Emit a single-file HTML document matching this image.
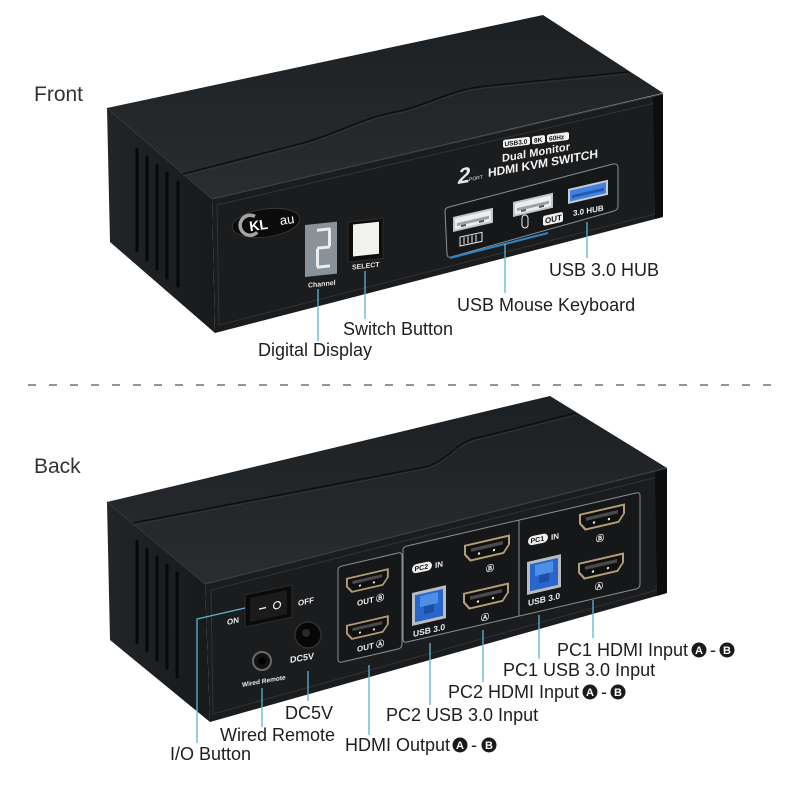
<!DOCTYPE html>
<html><head><meta charset="utf-8"><style>
html,body{margin:0;padding:0;background:#fff;}
svg{display:block;}
text{font-family:"Liberation Sans","DejaVu Sans",Arial,sans-serif;}
</style></head><body>
<svg width="800" height="800" viewBox="0 0 800 800" xmlns="http://www.w3.org/2000/svg">
<defs>
<linearGradient id="topg" x1="0" y1="0" x2="0" y2="1">
 <stop offset="0" stop-color="#1d2023"/><stop offset="1" stop-color="#2a2d30"/>
</linearGradient>
<linearGradient id="sideg" x1="0" y1="0" x2="1" y2="0">
 <stop offset="0" stop-color="#222528"/><stop offset="1" stop-color="#17191b"/>
</linearGradient>
<g id="hdmi">
 <path d="M0,0 H46 V10 L40,18 H6 L0,10 Z" fill="#b39e78"/>
 <path d="M2,2 H44 V9.5 L39,16 H7 L2,9.5 Z" fill="#101010"/>
 <rect x="7" y="5" width="32" height="3.5" fill="#4a4a4a"/>
 <circle cx="15" cy="12" r="1.2" fill="#eee"/>
 <circle cx="30" cy="12" r="1.2" fill="#eee"/>
</g>
<g id="usbb">
 <rect x="0" y="0" width="34" height="33" fill="#b9bdc2"/>
 <rect x="3" y="3" width="28" height="27" fill="#2a66c9"/>
 <rect x="8" y="5" width="18" height="11" fill="#4d8fe6"/>
 <rect x="12" y="16" width="10" height="8" fill="#1d4fa6"/>
</g>
<g id="usba">
 <rect x="0" y="0" width="40" height="15" fill="#c3c6c8"/>
 <rect x="2" y="2" width="36" height="11" fill="#eceded"/>
 <rect x="4" y="7" width="32" height="3" fill="#9ea1a3"/>
 <rect x="8" y="10" width="5" height="2" fill="#555"/>
 <rect x="26" y="10" width="5" height="2" fill="#555"/>
</g>
</defs>
<rect width="800" height="800" fill="#fff"/>

<text x="34" y="101" font-size="21" fill="#333">Front</text>
<text x="34" y="473" font-size="21" fill="#333">Back</text>

<line x1="28" y1="385" x2="772" y2="385" stroke="#555" stroke-width="1.2" stroke-dasharray="8 13"/>

<!-- ================= FRONT DEVICE ================= -->
<polygon points="107,108 212,199 215,333 110,242" fill="url(#sideg)"/>
<polygon points="107,108 543,15 663,93 212,199" fill="url(#topg)"/>
<polygon points="212,199 663,94 663,217 215,333" fill="#1a1c1e"/>
<polygon points="217,205 655,103 655,214 219,325" fill="none" stroke="#2f3337" stroke-width="1"/>
<polygon points="653,97 663,94 663,217 655,219" fill="#0c0d0e"/>
<line x1="212" y1="199" x2="663" y2="94" stroke="#3d4145" stroke-width="1.2"/>
<line x1="107" y1="108" x2="212" y2="199" stroke="#34383b" stroke-width="1"/>
<path d="M183,174 L303,143 C340,133 360,118 400,111 C430,104 450,90 485,86 L628,72" fill="none" stroke="#0e0f10" stroke-width="1.6"/>
<path d="M183,176 L303,145 C340,135 360,120 400,113 C430,106 450,92 485,88 L628,74" fill="none" stroke="#34373a" stroke-width="0.8"/>
<g stroke="#070808" stroke-width="3" stroke-linecap="round">
 <line x1="137" y1="149" x2="137" y2="251"/>
 <line x1="147" y1="157" x2="147" y2="260"/>
 <line x1="157" y1="165" x2="157" y2="269"/>
 <line x1="167" y1="173" x2="167" y2="278"/>
 <line x1="178" y1="182" x2="178" y2="286"/>
</g>
<g transform="rotate(-8 266 223)">
 <ellipse cx="266" cy="223" rx="34" ry="14" fill="#0b0b0b" stroke="#3c3c3c" stroke-width="0.8"/>
 <path d="M256,215 A10,10 0 1 0 256,231" fill="none" stroke="#a5a5a5" stroke-width="3.5"/>
 <text x="249" y="229" font-size="14" font-weight="bold" fill="#fff">KL</text>
 <text x="280" y="227" font-size="13" fill="#fff">au</text>
</g>
<g transform="translate(305,225) skewY(-6)">
 <rect x="0" y="0" width="32" height="52" fill="#8a9299"/>
 <g fill="#e9edf0">
  <rect x="12" y="5" width="13" height="3"/>
  <rect x="23" y="6" width="3" height="18"/>
  <rect x="12" y="23" width="13" height="3"/>
  <rect x="11" y="25" width="3" height="18"/>
  <rect x="12" y="42" width="13" height="3"/>
 </g>
 <text x="3" y="63" font-size="7" font-weight="bold" fill="#e6e6e6">Channel</text>
</g>
<g transform="translate(348,222) skewY(-6)">
 <rect x="0" y="0" width="35" height="40" fill="#0d0d0e" stroke="#2e2e2e"/>
 <rect x="5" y="3" width="26" height="32" fill="#f1f1ee"/>
 <text x="4" y="48" font-size="7" font-weight="bold" fill="#e6e6e6">SELECT</text>
</g>
<g transform="translate(503,148) skewY(-7)">
 <rect x="0" y="-8" width="27" height="8" rx="2" fill="#f2f2f2"/>
 <text x="1.5" y="-1.5" font-size="6.5" font-weight="bold" fill="#111">USB3.0</text>
 <rect x="29" y="-8" width="13" height="8" rx="2" fill="#f2f2f2"/>
 <text x="31" y="-1.5" font-size="6.5" font-weight="bold" fill="#111">8K</text>
 <rect x="44" y="-8" width="22" height="8" rx="2" fill="#f2f2f2"/>
 <text x="46" y="-1.5" font-size="6.5" font-weight="bold" fill="#111">60Hz</text>
</g>
<g transform="translate(502,162) skewY(-10)">
 <text x="0" y="0" font-size="11" font-weight="bold" fill="#f2f2f2" textLength="68">Dual Monitor</text>
</g>
<g transform="translate(488,177) skewY(-10)">
 <text x="0" y="0" font-size="12" font-weight="bold" fill="#f2f2f2" textLength="110">HDMI KVM SWITCH</text>
</g>
<g transform="translate(458,184) skewY(-10)">
 <text x="0" y="0" font-size="22" font-weight="bold" font-style="italic" fill="#e8e8e8">2</text>
 <text x="11" y="-1" font-size="5" fill="#e8e8e8">PORT</text>
</g>
<path d="M449,207 L613,164 Q618,163 618,168 L618,206 Q618,210 614,211 L451,257 Q447,258 447,254 L445,211 Q445,208 449,207 Z" fill="#151719" stroke="#8b9095" stroke-width="1"/>
<g transform="translate(453,217) skewY(-13)"><use href="#usba"/></g>
<g transform="translate(513,202) skewY(-13)"><use href="#usba"/></g>
<g transform="translate(568,189) skewY(-13)">
 <rect x="0" y="0" width="40" height="15" fill="#c8ccd1"/>
 <rect x="2" y="2" width="36" height="11" fill="#3f82e2"/>
 <rect x="4" y="7" width="32" height="3" fill="#2758b0"/>
</g>
<g transform="translate(460,246) skewY(-12)">
 <rect x="0" y="-9" width="22" height="9" fill="none" stroke="#eee" stroke-width="1"/>
 <g stroke="#eee" stroke-width="1"><line x1="4" y1="-8" x2="4" y2="-1"/><line x1="8" y1="-8" x2="8" y2="-1"/><line x1="12" y1="-8" x2="12" y2="-1"/><line x1="16" y1="-8" x2="16" y2="-1"/></g>
</g>
<rect x="522" y="215" width="6" height="13" rx="3" fill="none" stroke="#eee" stroke-width="1"/>
<g transform="translate(543,226) skewY(-12)">
 <rect x="0" y="-10" width="20" height="10" rx="2" fill="#f0f0f0"/>
 <text x="2" y="-2" font-size="8" font-weight="bold" fill="#111">OUT</text>
</g>
<g transform="translate(573,216) skewY(-10)">
 <text x="0" y="0" font-size="8" font-weight="bold" fill="#f0f0f0">3.0 HUB</text>
</g>
<line x1="450" y1="258" x2="548" y2="233" stroke="#2d86c8" stroke-width="2"/>

<g stroke="#5fb4d3" stroke-width="1.3">
 <line x1="318" y1="289" x2="318" y2="341"/>
 <line x1="365" y1="271" x2="365" y2="319"/>
 <line x1="505" y1="244" x2="505" y2="293"/>
 <line x1="587" y1="222" x2="587" y2="258"/>
</g>
<g font-size="18" fill="#1e1e1e">
 <text x="258" y="356">Digital Display</text>
 <text x="343" y="335">Switch Button</text>
 <text x="457" y="311">USB Mouse Keyboard</text>
 <text x="549" y="276">USB 3.0 HUB</text>
</g>

<!-- ================= BACK DEVICE ================= -->
<polygon points="107,502 205,584 210,722 110,640" fill="url(#sideg)"/>
<polygon points="107,502 550,396 667,468 205,584" fill="url(#topg)"/>
<polygon points="205,584 667,468 667,593 210,722" fill="#1a1c1e"/>
<polygon points="211,590 657,477 657,590 213,714" fill="none" stroke="#2f3337" stroke-width="1"/>
<polygon points="655,471 667,468 667,593 657,596" fill="#0c0d0e"/>
<line x1="205" y1="584" x2="667" y2="468" stroke="#3d4145" stroke-width="1.2"/>
<line x1="107" y1="502" x2="205" y2="584" stroke="#34383b" stroke-width="1"/>
<path d="M133,523 L420,468 C440,465 450,452 462,444 C470,439 475,438 485,436 L576,413" fill="none" stroke="#0e0f10" stroke-width="1.6"/>
<path d="M133,525 L420,470 C440,467 450,454 462,446 C470,441 475,440 485,438 L576,415" fill="none" stroke="#34373a" stroke-width="0.8"/>
<g stroke="#070808" stroke-width="3" stroke-linecap="round">
 <line x1="137" y1="541" x2="137" y2="643"/>
 <line x1="147" y1="549" x2="147" y2="651"/>
 <line x1="157" y1="557" x2="157" y2="660"/>
 <line x1="167" y1="565" x2="167" y2="668"/>
 <line x1="177" y1="573" x2="177" y2="677"/>
</g>
<g transform="translate(245,595) skewY(-12)">
 <rect x="0" y="0" width="47" height="32" fill="#0a0a0a" stroke="#2c2c2c"/>
 <rect x="5" y="4" width="37" height="24" fill="#1b1b1b"/>
 <line x1="14" y1="17" x2="21" y2="17" stroke="#f0f0f0" stroke-width="1.4"/>
 <circle cx="32" cy="17" r="3.5" fill="none" stroke="#f0f0f0" stroke-width="1.2"/>
</g>
<g transform="translate(298,606) skewY(-12)"><text font-size="8" font-weight="bold" fill="#eee">OFF</text></g>
<g transform="translate(227,625) skewY(-12)"><text font-size="8" font-weight="bold" fill="#eee">ON</text></g>
<circle cx="308" cy="635" r="13" fill="#070707" stroke="#303030" stroke-width="1.5"/>
<circle cx="306" cy="633" r="4" fill="#2a2a2a"/>
<g transform="translate(290,663) skewY(-10)"><text font-size="9" font-weight="bold" fill="#eee">DC5V</text></g>
<circle cx="262" cy="661" r="9" fill="#111" stroke="#6a6a6a" stroke-width="2"/>
<circle cx="262" cy="661" r="3.5" fill="#000"/>
<g transform="translate(242,687) skewY(-10)"><text font-size="6.5" font-weight="bold" fill="#eee">Wired Remote</text></g>
<path d="M342,566 L398,553 Q402,552 402,556 L402,644 Q402,648 398,649 L342,662 Q338,663 338,659 L338,570 Q338,567 342,566 Z" fill="#151719" stroke="#8b9095" stroke-width="1"/>
<path d="M407,546 L636,493 Q640,492 640,496 L640,584 Q640,588 636,589 L407,642 Q403,643 403,639 L403,550 Q403,547 407,546 Z" fill="#151719" stroke="#8b9095" stroke-width="1"/>
<line x1="519" y1="520" x2="519" y2="616" stroke="#8b9095" stroke-width="1"/>
<g transform="translate(346,578) skewY(-13) scale(0.93,0.9)"><use href="#hdmi"/></g>
<g transform="translate(346,625) skewY(-13) scale(0.93,0.9)"><use href="#hdmi"/></g>
<g transform="translate(464,545) skewY(-13)"><use href="#hdmi"/></g>
<g transform="translate(463,593) skewY(-13)"><use href="#hdmi"/></g>
<g transform="translate(579,514) skewY(-13)"><use href="#hdmi"/></g>
<g transform="translate(578,563) skewY(-13)"><use href="#hdmi"/></g>
<g transform="translate(412,593) skewY(-13)"><use href="#usbb"/></g>
<g transform="translate(527,562) skewY(-13)"><use href="#usbb"/></g>
<g font-weight="bold" fill="#eee">
 <g transform="translate(357,606) skewY(-13)"><text font-size="8">OUT Ⓑ</text></g>
 <g transform="translate(357,652) skewY(-13)"><text font-size="8">OUT Ⓐ</text></g>
 <g transform="translate(486,572) skewY(-13)"><text font-size="8">Ⓑ</text></g>
 <g transform="translate(481,621) skewY(-13)"><text font-size="8">Ⓐ</text></g>
 <g transform="translate(596,542) skewY(-13)"><text font-size="8">Ⓑ</text></g>
 <g transform="translate(595,590) skewY(-13)"><text font-size="8">Ⓐ</text></g>
 <g transform="translate(413,637) skewY(-13)"><text font-size="8.5">USB 3.0</text></g>
 <g transform="translate(528,606) skewY(-13)"><text font-size="8.5">USB 3.0</text></g>
 <g transform="translate(412,573) skewY(-12)">
  <rect x="0" y="-8" width="20" height="9" rx="4.5" fill="#f0f0f0"/>
  <text x="2.5" y="-1" font-size="7" fill="#111">PC2</text>
  <text x="23" y="0" font-size="8">IN</text>
 </g>
 <g transform="translate(528,545) skewY(-12)">
  <rect x="0" y="-8" width="20" height="9" rx="4.5" fill="#f0f0f0"/>
  <text x="2.5" y="-1" font-size="7" fill="#111">PC1</text>
  <text x="23" y="0" font-size="8">IN</text>
 </g>
</g>

<g stroke="#5fb4d3" stroke-width="1.3" fill="none">
 <polyline points="245,608 197,619 197,743"/>
 <line x1="262" y1="688" x2="262" y2="727"/>
 <line x1="308" y1="671" x2="308" y2="701"/>
 <line x1="369" y1="665" x2="369" y2="735"/>
 <line x1="430" y1="643" x2="430" y2="705"/>
 <line x1="483" y1="630" x2="483" y2="682"/>
 <line x1="539" y1="615" x2="539" y2="659"/>
 <line x1="593" y1="600" x2="593" y2="638"/>
</g>
<g font-size="18" fill="#1e1e1e">
 <text x="170" y="760">I/O Button</text>
 <text x="220" y="741">Wired Remote</text>
 <text x="285" y="719">DC5V</text>
 <text x="345" y="751">HDMI Output</text>
 <text x="386" y="721">PC2 USB 3.0 Input</text>
 <text x="448" y="698">PC2 HDMI Input</text>
 <text x="503" y="676">PC1 USB 3.0 Input</text>
 <text x="557" y="656">PC1 HDMI Input</text>
 <text x="474" y="751" text-anchor="middle">-</text>
 <text x="604" y="698" text-anchor="middle">-</text>
 <text x="713" y="656" text-anchor="middle">-</text>
</g>
<g>
 <circle cx="460" cy="745" r="7.5" fill="#1a1a1a"/><text x="460" y="749" font-size="11" font-weight="bold" fill="#fff" text-anchor="middle">A</text>
 <circle cx="489" cy="745" r="7.5" fill="#1a1a1a"/><text x="489" y="749" font-size="11" font-weight="bold" fill="#fff" text-anchor="middle">B</text>
 <circle cx="590" cy="692" r="7.5" fill="#1a1a1a"/><text x="590" y="696" font-size="11" font-weight="bold" fill="#fff" text-anchor="middle">A</text>
 <circle cx="618" cy="692" r="7.5" fill="#1a1a1a"/><text x="618" y="696" font-size="11" font-weight="bold" fill="#fff" text-anchor="middle">B</text>
 <circle cx="699" cy="650" r="7.5" fill="#1a1a1a"/><text x="699" y="654" font-size="11" font-weight="bold" fill="#fff" text-anchor="middle">A</text>
 <circle cx="727" cy="650" r="7.5" fill="#1a1a1a"/><text x="727" y="654" font-size="11" font-weight="bold" fill="#fff" text-anchor="middle">B</text>
</g>
</svg>
</body></html>
